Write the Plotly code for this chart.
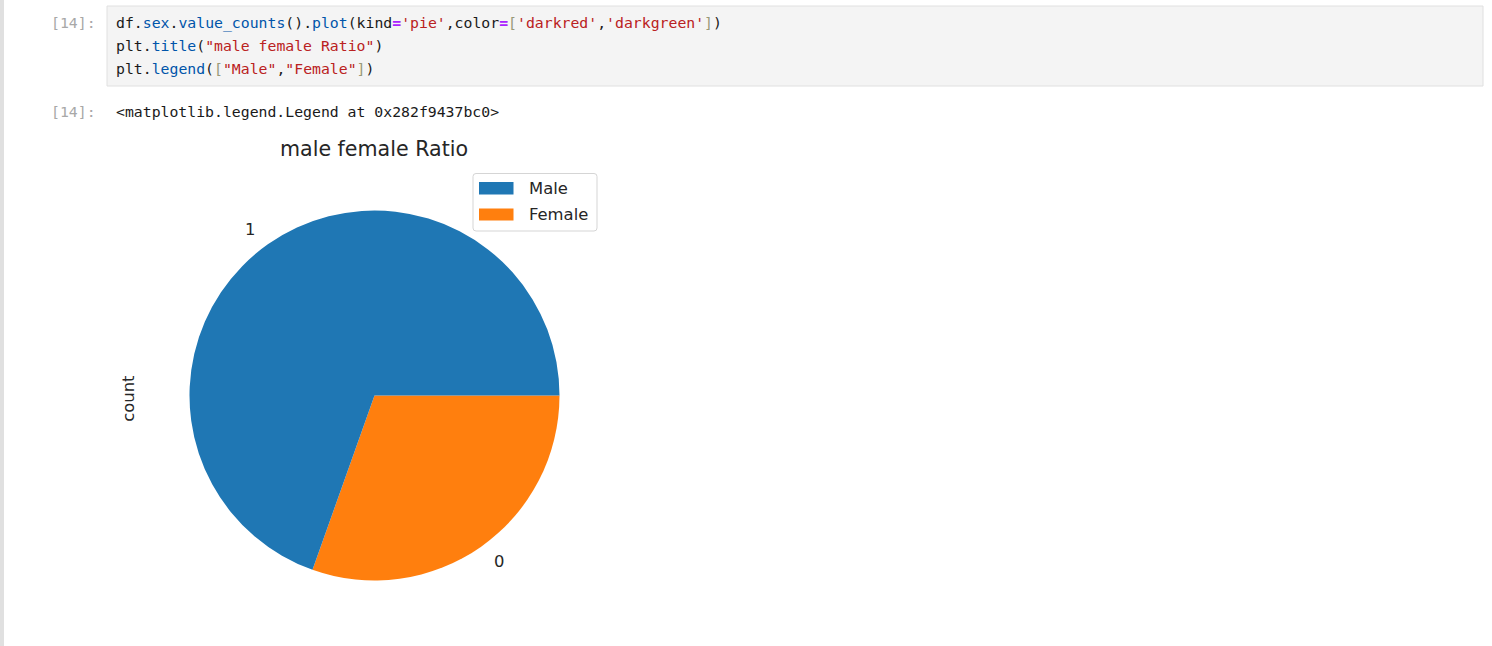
import math
import plotly.graph_objects as go

# ---------------- data ----------------
pie_labels = ["1", "0"]            # df.sex.value_counts() index
legend_labels = ["Male", "Female"]
counts = [713, 312]
slice_colors = ["#1f77b4", "#ff7f0e"]

title_text = "male female Ratio"
ylabel_text = "count"
prompt_text = "[14]:"
output_text = "<matplotlib.legend.Legend at 0x282f9437bc0>"

# ---------------- layout constants (pixels) ----------------
W, H = 1492, 646
CX, CY, R = 374.5, 395.5, 185.0


def px(x):
    return x / W


def py(y):
    return 1 - y / H


fig = go.Figure()

# matplotlib draws the first wedge counterclockwise from 3 o'clock;
# in plotly the same layout is obtained by drawing the reversed order clockwise from 3 o'clock
fig.add_trace(go.Pie(
    labels=legend_labels[::-1],
    values=counts[::-1],
    marker=dict(colors=slice_colors[::-1], line=dict(width=0)),
    sort=False,
    direction="clockwise",
    rotation=90,
    textinfo="none",
    showlegend=False,
    hoverinfo="label+value",
    domain=dict(x=[px(CX - R), px(CX + R)], y=[py(CY + R), py(CY - R)]),
))

annotations = []
shapes = []

# ---- notebook chrome ----
shapes.append(dict(type="rect", xref="paper", yref="paper",
                   x0=px(0), x1=px(4), y0=0, y1=1,
                   fillcolor="#e0e0e0", line=dict(width=0), layer="below"))
shapes.append(dict(type="rect", xref="paper", yref="paper",
                   x0=px(107), x1=px(1483), y0=py(86), y1=py(6),
                   fillcolor="#f4f4f4", line=dict(color="#e0e0e0", width=1), layer="below"))

MONO = "DejaVu Sans Mono"
CODE_SIZE = 14.8
BLUE = "#0055aa"
RED = "#ba2121"
OP = "#aa22ff"
BR = "#999977"
BLK = "#1a1a1a"


def s(t, c, bold=False):
    t = t.replace("<", "&lt;").replace(">", "&gt;")
    inner = f"<span style='color:{c}'>{t}</span>"
    return f"<b>{inner}</b>" if bold else inner


code_lines = [
    s("df", BLK) + s(".", BLK) + s("sex", BLUE) + s(".", BLK) + s("value_counts", BLUE)
    + s("().", BLK) + s("plot", BLUE) + s("(kind", BLK) + s("=", OP, True)
    + s("'pie'", RED) + s(",color", BLK) + s("=", OP, True) + s("[", BR)
    + s("'darkred'", RED) + s(",", BLK) + s("'darkgreen'", RED) + s("]", BR) + s(")", BLK),
    s("plt", BLK) + s(".", BLK) + s("title", BLUE) + s("(", BLK)
    + s('"male female Ratio"', RED) + s(")", BLK),
    s("plt", BLK) + s(".", BLK) + s("legend", BLUE) + s("(", BLK) + s("[", BR)
    + s('"Male"', RED) + s(",", BLK) + s('"Female"', RED) + s("]", BR) + s(")", BLK),
]
code_y = [23.0, 45.7, 68.4]
for txt, yy in zip(code_lines, code_y):
    annotations.append(dict(text=txt, xref="paper", yref="paper", x=px(114), y=py(yy),
                            xanchor="left", yanchor="middle", showarrow=False,
                            font=dict(family=MONO, size=CODE_SIZE, color=BLK)))

for yy in (23.0, 111.5):
    annotations.append(dict(text=prompt_text, xref="paper", yref="paper", x=px(98), y=py(yy),
                            xanchor="right", yanchor="middle", showarrow=False,
                            font=dict(family=MONO, size=CODE_SIZE, color="#a8a8a8")))

annotations.append(dict(text=output_text.replace("<", "&lt;").replace(">", "&gt;"),
                        xref="paper", yref="paper", x=px(114), y=py(111.5),
                        xanchor="left", yanchor="middle", showarrow=False,
                        font=dict(family=MONO, size=CODE_SIZE, color=BLK)))

# ---- chart texts ----
SANS = "DejaVu Sans"
annotations.append(dict(text=title_text, xref="paper", yref="paper", x=px(CX), y=py(149),
                        xanchor="center", yanchor="middle", showarrow=False,
                        font=dict(family=SANS, size=20.6, color="#262626")))
annotations.append(dict(text=ylabel_text, xref="paper", yref="paper", x=px(128.3), y=py(398.5),
                        xanchor="center", yanchor="middle", showarrow=False, textangle=-90,
                        font=dict(family=SANS, size=16.4, color="#262626")))

# slice labels at 1.1 * radius, mid-angle of each slice (matplotlib style)
total = sum(counts)
theta0 = 0.0
for lab, v in zip(pie_labels, counts):
    theta1 = theta0 + 360.0 * v / total
    mid = math.radians((theta0 + theta1) / 2)
    lx = CX + 1.1 * R * math.cos(mid)
    ly = CY - 1.1 * R * math.sin(mid)
    annotations.append(dict(text=lab, xref="paper", yref="paper", x=px(lx), y=py(ly),
                            xanchor="right" if math.cos(mid) < 0 else "left",
                            yanchor="middle", showarrow=False,
                            font=dict(family=SANS, size=16.4, color="#262626")))
    theta0 = theta1

# ---- legend (matplotlib style box) ----
LX0, LX1, LY0, LY1, RR = 473, 597, 173.5, 231, 3


def rounded_path(x0, y0, x1, y1, r):
    pts = [
        f"M{px(x0 + r)},{py(y0)}", f"L{px(x1 - r)},{py(y0)}",
        f"Q{px(x1)},{py(y0)} {px(x1)},{py(y0 + r)}", f"L{px(x1)},{py(y1 - r)}",
        f"Q{px(x1)},{py(y1)} {px(x1 - r)},{py(y1)}", f"L{px(x0 + r)},{py(y1)}",
        f"Q{px(x0)},{py(y1)} {px(x0)},{py(y1 - r)}", f"L{px(x0)},{py(y0 + r)}",
        f"Q{px(x0)},{py(y0)} {px(x0 + r)},{py(y0)}", "Z",
    ]
    return " ".join(pts)


shapes.append(dict(type="path", xref="paper", yref="paper",
                   path=rounded_path(LX0, LY0, LX1, LY1, RR),
                   fillcolor="rgba(255,255,255,0.8)", line=dict(color="#d5d5d5", width=1)))
patch_y = [(182, 194.5), (208.5, 220.5)]
for (y0, y1), col, lab in zip(patch_y, slice_colors, legend_labels):
    shapes.append(dict(type="rect", xref="paper", yref="paper",
                       x0=px(479), x1=px(513.5), y0=py(y1), y1=py(y0),
                       fillcolor=col, line=dict(width=0)))
    annotations.append(dict(text=lab, xref="paper", yref="paper", x=px(527), y=py((y0 + y1) / 2),
                            xanchor="left", yanchor="middle", showarrow=False,
                            font=dict(family=SANS, size=16.4, color="#262626")))

fig.update_layout(
    width=W, height=H, autosize=False,
    margin=dict(l=0, r=0, t=0, b=0, pad=0),
    paper_bgcolor="white", plot_bgcolor="white",
    showlegend=False,
    annotations=annotations,
    shapes=shapes,
)

fig.write_html("out.html", config={"displayModeBar": False})
